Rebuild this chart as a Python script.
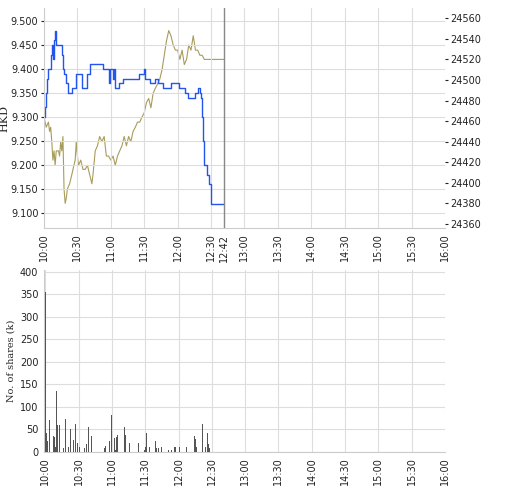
import numpy as np, pandas as pd, matplotlib
matplotlib.use("Agg")
import matplotlib.pyplot as plt, seaborn as sns

sns.set_style("white")
plt.rcParams['font.family'] = ['DejaVu Sans']

price_min = [0,1,2,3,4,5,6,7,8,9,10,11,15,16,17,18,20,22,24,25,27,29,33,34,38,39,41,50,53,57,58,59,61,62,63,64,66,67,69,71,84,85,89,90,91,95,99,100,102,106,107,111,114,120,121,126,127,129,135,136,138,140,141,142,143,144,146,148,150,162]
price_val = [9.30,9.32,9.35,9.38,9.40,9.40,9.43,9.45,9.42,9.46,9.48,9.45,9.45,9.43,9.40,9.39,9.37,9.35,9.35,9.36,9.36,9.39,9.39,9.36,9.36,9.39,9.41,9.41,9.40,9.40,9.37,9.40,9.40,9.38,9.40,9.36,9.36,9.37,9.37,9.38,9.38,9.39,9.39,9.40,9.38,9.37,9.37,9.38,9.37,9.37,9.36,9.36,9.37,9.37,9.36,9.36,9.35,9.34,9.34,9.35,9.36,9.35,9.34,9.30,9.25,9.20,9.18,9.16,9.12,9.12]

index_min = [0,2,4,5,6,7,8,9,10,11,13,14,15,16,17,18,19,20,21,23,25,26,28,29,30,31,33,35,37,39,41,43,44,46,48,50,52,54,56,58,60,62,64,66,68,70,72,74,76,78,80,82,84,86,88,90,92,94,96,98,100,102,104,106,108,110,112,114,116,118,120,122,124,126,128,130,132,134,136,138,140,142,144,162]
index_val = [24464,24454,24459,24450,24454,24440,24422,24431,24417,24431,24431,24426,24440,24431,24445,24394,24380,24385,24394,24399,24408,24413,24422,24440,24426,24417,24422,24413,24413,24417,24408,24399,24408,24431,24436,24445,24440,24445,24426,24426,24422,24426,24417,24426,24431,24436,24445,24436,24445,24440,24450,24454,24459,24459,24464,24468,24478,24482,24473,24487,24492,24496,24501,24510,24524,24538,24548,24543,24534,24529,24529,24520,24529,24515,24520,24534,24529,24543,24529,24529,24524,24524,24520,24520]

vol_min = [0,1,2,4,6,7,8,9,10,11,13,16,18,21,23,24,25,27,29,31,33,35,37,39,42,43,53,54,58,60,61,62,63,64,65,70,71,72,76,79,84,89,90,91,94,99,100,102,105,106,111,114,116,117,121,124,127,134,135,136,142,143,144,146,147,148]
vol_k = [355,42,25,72,51,36,33,10,135,60,60,8,74,12,51,65,27,63,19,10,5,8,17,56,35,10,8,14,24,83,33,30,5,33,37,8,56,38,19,8,21,5,10,42,10,24,8,8,10,8,5,5,10,12,12,42,12,35,28,10,62,24,10,42,17,8]

tick_pos = list(range(0, 361, 30))
tick_lab = ["10:00","10:30","11:00","11:30","12:00","12:30","13:00","13:30","14:00","14:30","15:00","15:30","16:00"]

fig = plt.figure(figsize=(5.2, 5.0), dpi=100)
ax1 = fig.add_axes([0.0846, 0.544, 0.771, 0.44])
ax2 = ax1.twinx()
axb = fig.add_axes([0.0846, 0.096, 0.771, 0.364])

fs = 7
grid_c = "#dddddd"

sns.lineplot(x=index_min, y=index_val, ax=ax2, color="#a89c5c", lw=0.8)
sns.lineplot(x=price_min, y=price_val, ax=ax1, color="#2255ee", lw=1.0, drawstyle="steps-post")
ax1.set_zorder(ax2.get_zorder() + 1); ax1.patch.set_visible(False)
ax1.axvline(162, color="#888888", lw=1)

ax1.set_xlim(0, 360); ax1.set_ylim(9.069, 9.527)
ax2.set_ylim(24356, 24570)
ax1.set_yticks(np.arange(9.10, 9.501, 0.05))
ax1.set_yticklabels([f"{v:.3f}" for v in np.arange(9.10, 9.501, 0.05)], fontsize=fs)
ax2.set_yticks(range(24360, 24561, 20))
ax2.set_yticklabels([str(v) for v in range(24360, 24561, 20)], fontsize=fs)
ax1.set_xticks(tick_pos[:6] + [162] + tick_pos[6:])
ax1.set_xticklabels(tick_lab[:6] + ["12:42"] + tick_lab[6:], rotation=90, fontsize=fs)
ax1.set_ylabel("HKD", fontsize=fs+1, family="serif", labelpad=1)
ax1.grid(True, color=grid_c, lw=0.8); ax1.set_axisbelow(True)
ax2.grid(False)

vol_df = pd.DataFrame({"minute": vol_min, "vol": vol_k})
sns.barplot(data=vol_df, x="minute", y="vol", native_scale=True, ax=axb,
            color="#555555", width=0.8, linewidth=0, saturation=1, errorbar=None, zorder=3)
axb.set_xlim(-1.2, 360); axb.set_ylim(0, 404)
axb.set_xticks(tick_pos); axb.set_xticklabels(tick_lab, rotation=90, fontsize=fs)
axb.set_yticks(range(0, 401, 50)); axb.set_yticklabels([str(v) for v in range(0, 401, 50)], fontsize=fs)
axb.set_ylabel("No. of shares (k)", fontsize=fs, family="serif", labelpad=3)
axb.set_xlabel("")
axb.grid(True, color=grid_c, lw=0.8); axb.set_axisbelow(True)

for a in (ax1, ax2, axb):
    for s in a.spines.values():
        s.set_visible(False)
    a.tick_params(length=2, pad=2, colors="#222222")
for a in (ax1, axb):
    a.spines['left'].set_visible(True); a.spines['left'].set_color("#cccccc")
    a.spines['bottom'].set_visible(True); a.spines['bottom'].set_color("#cccccc")

fig.savefig("out.png", dpi=100)
